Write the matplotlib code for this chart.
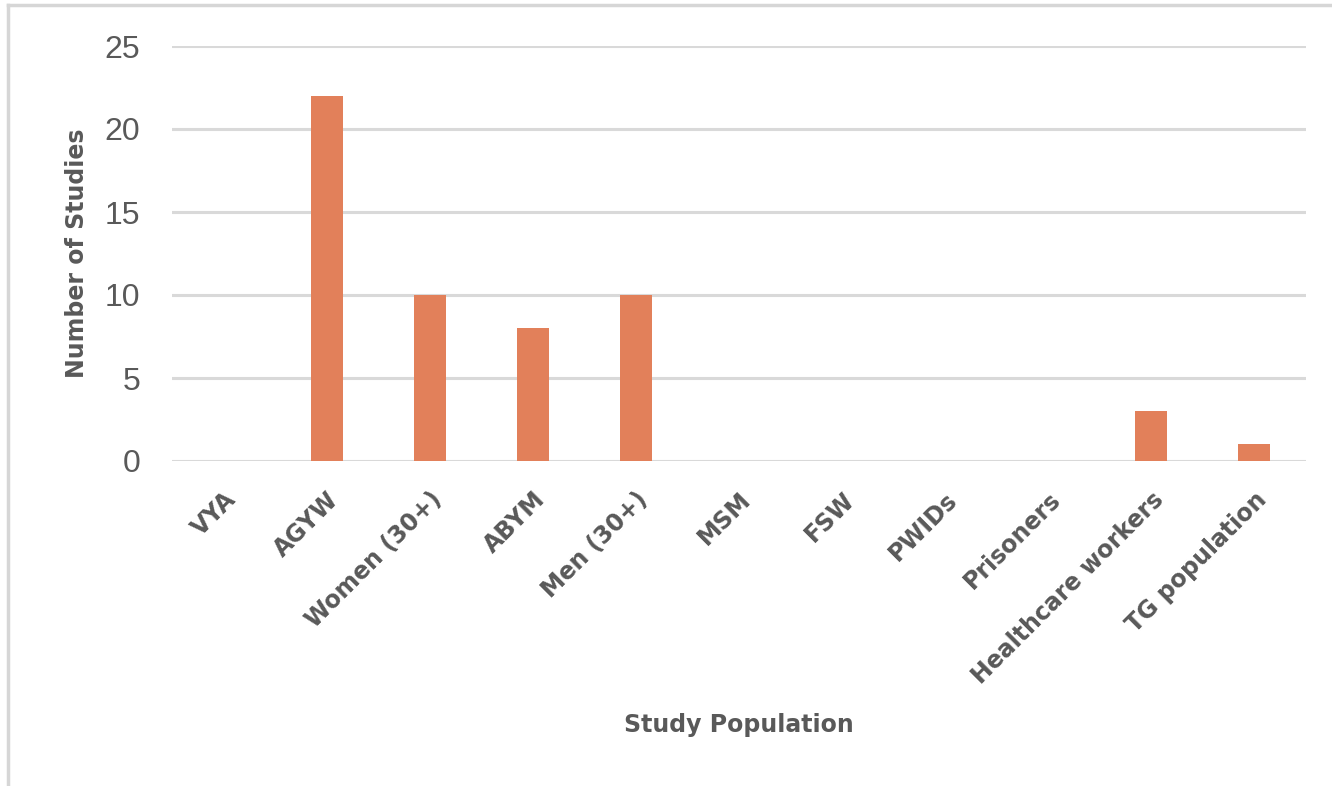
import matplotlib
matplotlib.use("Agg")
import matplotlib.pyplot as plt
from matplotlib.lines import Line2D

categories = ["VYA", "AGYW", "Women (30+)", "ABYM", "Men (30+)", "MSM", "FSW",
              "PWIDs", "Prisoners", "Healthcare workers", "TG population"]
studies = [0, 22, 10, 8, 10, 0, 0, 0, 0, 3, 1]
yticks = [0, 5, 10, 15, 20, 25]

W, H = 1332, 786
fig = plt.figure(figsize=(W / 100, H / 100), dpi=100)
ax = fig.add_axes([172 / W, 1 - 461 / H, (1306 - 172) / W, (461 - 46) / H])

bar_color = "#E2805A"
grid_color = "#D9D9D9"
text_color = "#595959"

x = list(range(len(categories)))
ax.bar(x, studies, width=0.31, color=bar_color, zorder=3)

ax.set_xlim(-0.5, len(categories) - 0.5)
ax.set_ylim(0, 25)
ax.set_yticks(yticks)
ax.yaxis.grid(True, color=grid_color, linewidth=2.2, zorder=0)
for s in ax.spines.values():
    s.set_visible(False)
ax.tick_params(axis="both", length=0)
ax.tick_params(axis="y", pad=23, labelsize=23, labelcolor=text_color)
for lbl in ax.get_yticklabels():
    lbl.set_fontfamily("Liberation Sans")

ax.set_xticks(x)
ax.set_xticklabels(categories, rotation=45, ha="right", rotation_mode="anchor",
                   fontsize=17, fontweight="bold", color=text_color)
ax.tick_params(axis="x", pad=19)

ax.set_xlabel("Study Population", fontsize=17, fontweight="bold",
              color=text_color, labelpad=0)
ax.xaxis.set_label_coords(0.5, -(713 - 461) / (461 - 46))
ax.set_ylabel("Number of Studies", fontsize=17, fontweight="bold",
              color=text_color)
ax.yaxis.set_label_coords((89 - 172) / (1306 - 172), 0.5)

# outer frame (top and left edges)
fig.add_artist(Line2D([8 / W, 1], [1 - 5 / H, 1 - 5 / H], color="#D6D6D6",
                      linewidth=2.5, transform=fig.transFigure))
fig.add_artist(Line2D([8 / W, 8 / W], [0, 1 - 5 / H], color="#D6D6D6",
                      linewidth=2.5, transform=fig.transFigure))

fig.savefig("out.png", dpi=100, facecolor="white")
